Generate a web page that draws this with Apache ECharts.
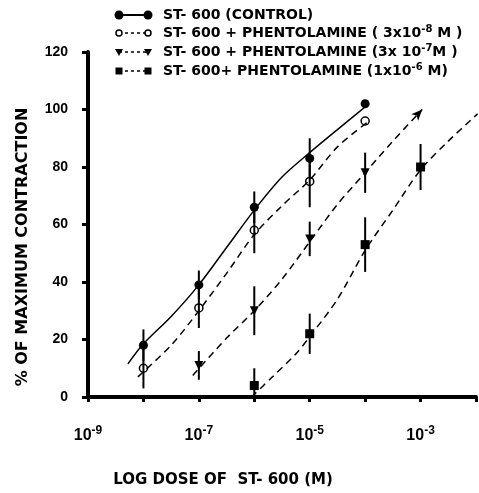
<!DOCTYPE html>
<html lang="en">
<head>
<meta charset="utf-8">
<title>ST-600 log dose response</title>
<script src="https://cdn.jsdelivr.net/npm/echarts@6/dist/echarts.min.js"></script>
<style>
html, body { margin: 0; padding: 0; background: #fff; }
#chart { width: 479px; height: 493px; }
</style>
</head>
<body>
<div id="chart"></div>
<script>
// doses are log10 of molar concentration
var ctrlDose = [-8, -7, -6, -5, -4];
var ctrlResp = [18, 39, 66, 83, 102];
var ctrlErr  = [5.5, 5, 5.5, 7, 0];

var phenADose = [-8, -7, -6, -5, -4];
var phenAResp = [10, 31, 58, 75, 96];
var phenAErr  = [7, 7, 8, 9, 0];

var phenBDose = [-7, -6, -5, -4];
var phenBResp = [11, 30, 55, 78];
var phenBErr  = [5, 8.5, 6, 7];

var phenCDose = [-6, -5, -4, -3];
var phenCResp = [4, 22, 53, 80];
var phenCErr  = [6, 7, 9.5, 8];

// hand drawn fitted curves
var ctrlCurve  = [[-8.28, 11.5], [-8, 18.5], [-7.5, 28], [-7, 39], [-6.5, 52], [-6, 65], [-5.5, 76.5], [-5, 85], [-4.5, 93], [-3.93, 102]];
var phenACurve = [[-8.1, 7], [-7.5, 18], [-7, 30], [-6.5, 43], [-6, 56.5], [-5.5, 66.5], [-5, 75.5], [-4.5, 87], [-3.93, 96]];
var phenBCurve = [[-7.11, 7.5], [-6.5, 20.5], [-6, 30], [-5.5, 41], [-5, 54], [-4.5, 67], [-4, 78], [-3.5, 89], [-2.97, 100]];
var phenCCurve = [[-6.05, 0], [-5.7, 6.5], [-5.25, 15], [-5, 21], [-4.5, 34], [-4, 51], [-3.5, 65], [-3, 79], [-2.5, 89], [-1.97, 98.5]];

var legendLabels = [
  'ST- 600 (CONTROL)',
  'ST- 600 + PHENTOLAMINE ( 3x10{s|-8} M )',
  'ST- 600 + PHENTOLAMINE (3x 10{s|-7}M )',
  'ST- 600+ PHENTOLAMINE (1x10{s|-6} M)'
];
var xAxisName = 'LOG DOSE OF  ST- 600 (M)';
var yAxisName = '% OF MAXIMUM CONTRACTION';

var chart = echarts.init(document.getElementById('chart'));

var groups = [
  {dose: ctrlDose,  resp: ctrlResp,  err: ctrlErr,  curve: ctrlCurve,  symbol: 'circle',   rotate: 0,   size: 9, fill: '#000', border: 0,   dash: 'solid', arrow: null},
  {dose: phenADose, resp: phenAResp, err: phenAErr, curve: phenACurve, symbol: 'circle',   rotate: 0,   size: 8, fill: 'rgba(0,0,0,0)', border: 1.5, dash: [7, 5], arrow: null},
  {dose: phenBDose, resp: phenBResp, err: phenBErr, curve: phenBCurve, symbol: 'triangle', rotate: 180, size: 9, fill: '#000', border: 0,   dash: [7, 5], arrow: -43},
  {dose: phenCDose, resp: phenCResp, err: phenCErr, curve: phenCCurve, symbol: 'rect',     rotate: 0,   size: 9, fill: '#000', border: 0,   dash: [7, 5], arrow: -47}
];

function errBar(params, api) {
  var e = api.value(2);
  if (!e) return null;
  var x = api.value(0), y = api.value(1);
  var lo = api.coord([x, Math.max(0, y - e)]);
  var hi = api.coord([x, y + e]);
  return {
    type: 'line',
    shape: {x1: lo[0], y1: lo[1], x2: hi[0], y2: hi[1]},
    style: {stroke: '#000', lineWidth: 2}
  };
}

var series = [];
groups.forEach(function (g) {
  var last = g.curve.length - 1;
  series.push({
    type: 'line',
    data: g.curve.map(function (p, k) {
      if (k === last && g.arrow !== null) {
        return {value: p, symbol: 'arrow', symbolSize: [7, 11], symbolRotate: g.arrow, itemStyle: {color: '#000'}};
      }
      return p;
    }),
    smooth: 0.3,
    symbol: 'none',
    showSymbol: true,
    lineStyle: {color: '#000', width: 1.5, type: g.dash},
    silent: true,
    z: 2
  });
  series.push({
    type: 'custom',
    data: g.dose.map(function (d, k) { return [d, g.resp[k], g.err[k]]; }),
    encode: {x: 0, y: 1},
    renderItem: errBar,
    silent: true,
    z: 3
  });
  series.push({
    type: 'scatter',
    data: g.dose.map(function (d, k) { return [d, g.resp[k]]; }),
    symbol: g.symbol,
    symbolSize: g.size,
    symbolRotate: g.rotate,
    itemStyle: {color: g.fill, borderColor: '#000', borderWidth: g.border, opacity: 1},
    silent: true,
    z: 4
  });
});

// legend drawn by hand: marker - line - marker, then the label
var legendY = [15, 33, 52, 71];
var legendItems = [];
legendY.forEach(function (y, i) {
  var x1 = 119, x2 = 148;
  legendItems.push({
    type: 'line',
    shape: {x1: x1, y1: y, x2: x2, y2: y},
    style: {stroke: '#000', lineWidth: i === 0 ? 2 : 1.5, lineDash: i === 0 ? null : [3, 3]}
  });
  [x1, x2].forEach(function (x) {
    if (i === 0) legendItems.push({type: 'circle', shape: {cx: x, cy: y, r: 4.5}, style: {fill: '#000'}});
    if (i === 1) legendItems.push({type: 'circle', shape: {cx: x, cy: y, r: 3}, style: {fill: '#fff', stroke: '#000', lineWidth: 1.5}});
    if (i === 2) legendItems.push({type: 'polygon', shape: {points: [[x - 4, y - 3], [x + 4, y - 3], [x, y + 4]]}, style: {fill: '#000'}});
    if (i === 3) legendItems.push({type: 'rect', shape: {x: x - 3.5, y: y - 3.5, width: 7, height: 7}, style: {fill: '#000'}});
  });
  legendItems.push({
    type: 'text',
    x: 163,
    y: y,
    style: {
      text: legendLabels[i],
      fontFamily: 'DejaVu Sans',
      fontWeight: 'bold',
      fontSize: 14,
      fill: '#000',
      align: 'left',
      verticalAlign: 'middle',
      rich: {s: {fontFamily: 'DejaVu Sans', fontWeight: 'bold', fontSize: 10, verticalAlign: 'top', padding: [0, 0, 8, 0]}}
    }
  });
});

var option = {
  animation: false,
  backgroundColor: '#fff',
  grid: {left: 88, right: 2, top: 52, bottom: 96},
  xAxis: {
    type: 'value',
    min: -9,
    max: -2,
    interval: 1,
    splitLine: {show: false},
    axisLine: {lineStyle: {color: '#000', width: 4}},
    axisTick: {length: 5, lineStyle: {color: '#000', width: 3}},
    axisLabel: {
      margin: 28,
      color: '#000',
      formatter: function (v) {
        return Math.abs(v) % 2 === 1 && v < -2 ? '{b|10}{s|' + v + '}' : '';
      },
      rich: {
        b: {fontFamily: 'Liberation Sans', fontWeight: 'bold', fontSize: 16, color: '#000'},
        s: {fontFamily: 'Liberation Sans', fontSize: 12, fontWeight: 'bold', color: '#000', verticalAlign: 'top', padding: [0, 0, 10, 0]}
      }
    }
  },
  yAxis: {
    type: 'value',
    min: 0,
    max: 120,
    interval: 20,
    splitLine: {show: false},
    axisLine: {show: true, lineStyle: {color: '#000', width: 4}},
    axisTick: {show: true, length: 6, lineStyle: {color: '#000', width: 3}},
    axisLabel: {
      margin: 20,
      color: '#000',
      fontFamily: 'Liberation Sans',
      fontWeight: 'bold',
      fontSize: 14
    }
  },
  graphic: [
    {type: 'group', children: legendItems},
    {
      type: 'text', x: 223, y: 480,
      style: {text: xAxisName, fontFamily: 'DejaVu Sans', fontWeight: 'bold', fontSize: 15, fill: '#000', align: 'center', verticalAlign: 'middle'}
    },
    {
      type: 'text', x: 23, y: 247, rotation: Math.PI / 2,
      style: {text: yAxisName, fontFamily: 'DejaVu Sans', fontWeight: 'bold', fontSize: 16, fill: '#000', align: 'center', verticalAlign: 'middle'}
    }
  ],
  series: series
};

chart.setOption(option);
</script>
</body>
</html>
